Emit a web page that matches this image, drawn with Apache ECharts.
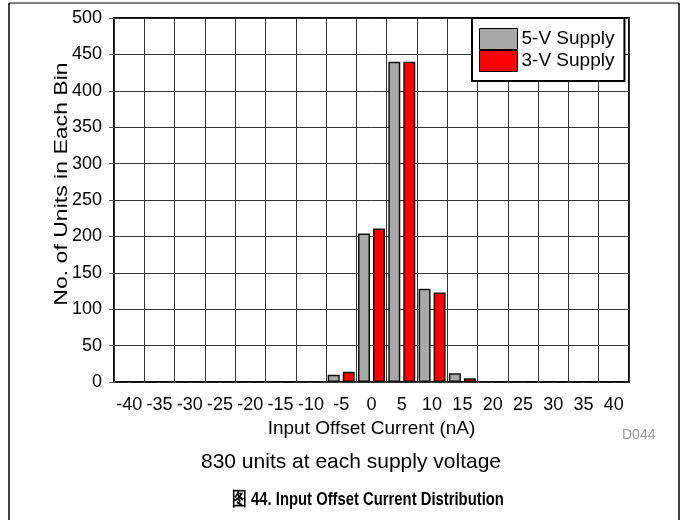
<!DOCTYPE html>
<html>
<head>
<meta charset="utf-8">
<script src="https://cdn.jsdelivr.net/npm/echarts@6/dist/echarts.min.js"></script>
<style>
  html, body { margin: 0; padding: 0; background: #fff; }
  #chart { width: 683px; height: 520px; }
</style>
</head>
<body>
<div id="chart"></div>
<script>
// Histogram bins (nA) and unit counts per bin for each supply voltage
const bins = ['-40', '-35', '-30', '-25', '-20', '-15', '-10', '-5', '0', '5', '10', '15', '20', '25', '30', '35', '40'];
const supply5V = [0, 0, 0, 0, 0, 0, 1, 10, 204, 440, 128, 12, 1, 0, 0, 0, 0];
const supply3V = [0, 0, 0, 0, 0, 0, 1, 14, 211, 440, 123, 5, 0, 0, 0, 0, 0];
const seriesNames = ['5-V Supply', '3-V Supply'];
const yTicks = { min: 0, max: 500, step: 50 };

const FONT = 'Arial, "Liberation Sans", sans-serif';

const chart = echarts.init(document.getElementById('chart'), null, { renderer: 'canvas' });

chart.setOption({
  animation: false,
  backgroundColor: '#fff',
  textStyle: { fontFamily: FONT, color: '#000' },
  grid: {
    left: 114, right: 54, top: 18, bottom: 138,
    show: true, borderColor: '#000', borderWidth: 2, backgroundColor: 'transparent'
  },
  legend: {
    data: seriesNames,
    orient: 'vertical',
    left: 472, top: 18,
    padding: [10, 10, 9, 7],
    itemGap: 0,
    itemWidth: 38, itemHeight: 21,
    icon: 'rect',
    backgroundColor: '#fff',
    borderColor: '#000', borderWidth: 2,
    textStyle: { fontFamily: FONT, fontSize: 19, color: '#000', padding: [0, 0, 0, -1] },
    itemStyle: { borderColor: '#000', borderWidth: 1 }
  },
  xAxis: {
    type: 'category',
    data: bins,
    boundaryGap: true,
    name: 'Input Offset Current (nA)',
    nameLocation: 'middle',
    nameGap: 32,
    nameTextStyle: { fontFamily: FONT, fontSize: 19, color: '#000' },
    axisLine: { show: false },
    axisTick: { show: false },
    axisLabel: { fontFamily: FONT, fontSize: 18, color: '#000', margin: 14, interval: 0 },
    splitLine: { show: true, interval: 0, lineStyle: { color: '#333', width: 1 } }
  },
  yAxis: {
    type: 'value',
    min: yTicks.min, max: yTicks.max, interval: yTicks.step,
    axisLine: { show: false },
    axisTick: { show: true, length: 5, lineStyle: { color: '#555', width: 1 } },
    axisLabel: { fontFamily: FONT, fontSize: 18, color: '#000', margin: 12 },
    splitLine: { show: true, lineStyle: { color: '#333', width: 1 } }
  },
  series: [
    {
      name: seriesNames[0], type: 'bar', data: supply5V,
      barWidth: 12, barGap: '25%',
      itemStyle: { color: '#a9a9a9', borderColor: '#111', borderWidth: 1.5 }
    },
    {
      name: seriesNames[1], type: 'bar', data: supply3V,
      barWidth: 12,
      itemStyle: { color: '#ff0000', borderColor: '#111', borderWidth: 1.5 }
    }
  ],
  graphic: [
    // page frame
    { type: 'line', shape: { x1: 9, y1: 3, x2: 679, y2: 3 }, style: { stroke: '#000', lineWidth: 1.2 } },
    { type: 'line', shape: { x1: 9, y1: 3, x2: 9, y2: 520 }, style: { stroke: '#000', lineWidth: 1.5 } },
    { type: 'line', shape: { x1: 679, y1: 3, x2: 679, y2: 520 }, style: { stroke: '#000', lineWidth: 1.5 } },
    // y-axis title, drawn as rotated text stretched along its length
    { type: 'text', x: 62, y: 184, rotation: Math.PI / 2, scaleX: 1.28,
      style: { text: 'No. of Units in Each Bin', fontFamily: FONT, fontSize: 18, fill: '#000', align: 'center', verticalAlign: 'middle' } },
    { type: 'text', left: 622, top: 428, style: { text: 'D044', fontFamily: FONT, fontSize: 14, fill: '#999' } },
    { type: 'text', x: 351, y: 462, style: { text: '830 units at each supply voltage', fontFamily: FONT, fontSize: 21, fill: '#000', align: 'center', verticalAlign: 'middle' } },
    { type: 'text', x: 368, y: 500, scaleX: 0.78,
      style: { text: '图 44. Input Offset Current Distribution', fontFamily: FONT, fontSize: 19, fontWeight: 'bold', fill: '#000', align: 'center', verticalAlign: 'middle' } }
  ]
});
</script>
</body>
</html>
